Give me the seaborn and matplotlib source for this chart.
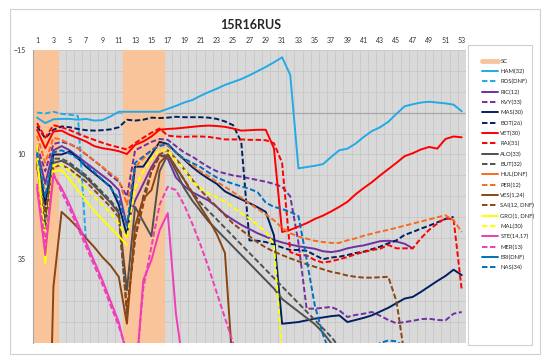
import numpy as np
import pandas as pd
import matplotlib
matplotlib.use("Agg")
import matplotlib.pyplot as plt
import seaborn as sns
from matplotlib.lines import Line2D
from matplotlib.patches import Rectangle

nan = np.nan

# lap numbers and safety-car laps
laps = list(range(1, 54))
sc_laps = [1, 2, 3, 12, 13, 14, 15, 16]

# gap values per driver, one per lap (nan = no data)
ham = [1.2, 2.5, 1.6, 1.5, 1.5, 1.7, 1.5, 1.9, 1.8, 0.9, -0.2, -0.2, -0.2, -0.2, -0.2, -0.2, -0.9, -1.6, -2.4, -3.0,
       -4.0, -4.9, -5.7, -6.6, -7.3, -8.0, -8.9, -9.9, -10.9, -12.0, -13.2, -9.0, 13.3, 13.0, 12.7, 12.3, 10.6, 9.0, 8.6, 7.4,
       5.8, 4.4, 3.5, 2.2, 0.3, -1.5, -2.0, -2.4, -2.6, -2.4, -2.2, -1.9, -0.3]
ros = [0.0, 0.2, -0.2, 0.3, 0.5, 0.8, 31.0] + [nan] * 46
ric = [9, 17, 9, 8, 9, 10.5, 12, 13.5, 15, 16.5, 18.5, 27, 21, 17, 13, 10, 11, 15.5, 17.5, 19,
       20, 21, 22.5, 24.3, 25.6, 26.8, 27.8, 28.8, 29.6, 30.4, 31, 31.5, 31.9, 32.2, 32.5, 33.1, 33.3, 33, 32.4, 32,
       31.7, 31.2, 30.7, 30.6, 30.8, 31.3, 32.4] + [nan] * 6
kvy = [8, 14, 7.5, 7, 7.5, 8.5, 10, 11.5, 13, 15, 16.5, 20, 9, 8, 7, 6.3, 6.5, 8, 9.5, 10.5,
       11.8, 13, 14, 14.5, 15, 15.3, 15.7, 16.1, 16.5, 17, 17.7, 20, 31, 46.8, 46.8, 46.6, 46.4, 47.2, 48.8, 48.3,
       48, 47.6, 48.5, 49.5, 50.3, 50, 49.7, 49.3, 49.2, 49.5, 49.6, 48, 47.6]
mas = [10, 22, 10, 10, 9.3, 10.9, 12.9, 14.5, 16.1, 17.7, 22, 29.3, 12.9, 12.9, 10, 7, 7.5, 9.5, 11.2, 13,
       14.5, 15.8, 17, 18.8, 19.8, 20.7, 21.6, 22.6, 23.7, 29.3, 50.4, 50.2, 50, 49.6, 49.2, 48.9, 48.6, 48.4, 50, 49.5,
       49, 48.4, 47.5, 46.6, 45.5, 44.4, 44, 42.8, 41.5, 40.2, 39, 37.5, 38.8]
bot = [3.3, 6.1, 4.1, 3.3, 3.5, 3.9, 4.2, 4.3, 4.2, 4.0, 3.5, 1.7, 1.9, 1.7, 1.2, 1.3, 1.2, 1.0, 1.1, 1.1,
       1.1, 1.2, 1.5, 2.1, 3.0, 7.0, 30.5, 30.6, 30.9, 31.5, 32.2, 32.8, 32.8, 33, 34, 35, 34.6, 34.4, 34, 33.5,
       33.2, 32.6, 32, 31.2, 30.5, 29.2, 28.5, 27.7, 27, 26.2, 25.4, 24.9, nan]
vet = [4.1, 8.5, 4.5, 4.3, 5.3, 6.1, 6.9, 8.0, 8.5, 8.8, 9.2, 9.9, 7.7, 6.9, 5.7, 4.1, 3.9, 3.8, 3.6, 3.4,
       3.2, 3.1, 3.2, 3.4, 3.8, 4.3, 4.2, 4.1, 4.1, 8.5, 28.5, 28, 27.2, 26.4, 25.4, 24.6, 23.6, 22.5, 21.3, 19.5,
       18, 16.6, 15, 13.5, 12, 10.4, 9.7, 8.8, 8.2, 8.6, 6.3, 5.7, 5.9]
rai = [2.5, 6, 3, 3.5, 4.2, 5, 5.8, 6.5, 7.2, 7.8, 8.3, 8.8, 7.3, 6, 4.8, 3.8, 5.5, 5.7, 5.8, 5.7,
       5.7, 5.8, 6.1, 6.4, 6.4, 6.4, 6.5, 6.5, 6.6, 7.3, 12, 33.3, 34, 34.1, 35.2, 35.8, 35.5, 35, 34.5, 33.8,
       33.3, 32.8, 32.5, 31.6, 32.4, 32.4, 32.4, 30, 28, 26.5, 25.2, 25.5, 42.4]
alo = [12, 27.7, 12, 11.5, 12.5, 14, 15.5, 17.5, 19.5, 21.5, 24, 42.4, 22.5, 26, 29.5, 14, 10, 14, 18, 21,
       23.5, 26, 28, 30, 32, 34, 36, 38, 40, 42, 44.5, 46, 47.5, 49, 50.5, 52.5, 55, 57.5] + [nan] * 15
but = [11, 25, 11, 11, 12, 13.5, 15, 17, 19, 21, 23.5, 48, 30, 20, 14, 10.5, 10, 13, 16, 19,
       21.5, 23.5, 25.5, 27.5, 29.5, 31.5, 33.5, 35.5, 37.5, 39.5, 41.5, 43.5, 45.5, 47.5, 49.5, 51.5, 53.5, 56,
       58.5] + [nan] * 14
hul = [7] + [nan] * 52
per = [5.5, 12, 6, 6.5, 7.5, 8.5, 10, 11.5, 13, 14.5, 16, 22, 13, 11, 9, 7.5, 8, 9.5, 11, 12.5,
       14, 15.2, 16.5, 17.7, 19, 20.3, 21.7, 23, 24.3, 25.7, 27.5, 28.8, 29.6, 30.1, 30.6, 30.9, 31.1, 31.1, 30.5, 30,
       29.4, 28.9, 28.4, 28, 27.5, 27, 26.5, 26, 25.5, 25, 24.5, 25.7, 28.5]
ves = [nan, 120, 41.6, 23.7, 25.5, 27.5, 30, 32.1, 34.5, 36.5, 39.2, 50.4, 27, 20.5, 18.5, 12, 10, 13, 16, 19.3,
       22.5, 25.5, 29, 33.5, 62] + [nan] * 28
sai = [13, 24, 13, 12.5, 13.5, 15, 16.5, 18.5, 20.5, 22.5, 25, 47, 30, 22, 14, 10, 9, 11, 13.5, 16,
       18.5, 20.5, 22.5, 24.5, 26.5, 28, 29.5, 31, 32.2, 33.2, 34, 34.8, 35.5, 36.2, 36.8, 37.4, 38, 38.4, 38.9, 39.2,
       39.4, 39.4, 39.3, 39.2, 45, 58] + [nan] * 7
gro = [8, 36, 14, 13.7, 16, 18.5, 21, 23.5, 25.5, 27.5, 29.5, 31.6] + [nan] * 41
mal = [11, 30, 12.5, 12.5, 14, 16, 18, 20, 22, 24, 26.5, 30, 18, 14, 11, 9, 9, 11.5, 13.5, 16.5,
       18, 19.3, 20.2, 21.3, 22.6, 24, 25.3, 26.8, 28.5, 31.5, 58] + [nan] * 22
ste = [18, 34, 15, 18, 22, 26.5, 31, 35.5, 40, 45, 50, 58, 66, 40, 35.2, 28.1, 24, 48, 62] + [nan] * 34
mer = [17, 31, 14.5, 19, 23, 27.5, 32, 36.5, 41, 46, 51, 57, 64, 42, 32, 22, 17.7, 18.5, 22, 26.5,
       31.5, 37, 43, 49, 55, 61] + [nan] * 27
eri = [14] + [nan] * 52
nas = [9.5, 20, 9.5, 9, 9.8, 11, 12.5, 14.2, 16, 18, 20.5, 27, 12, 10.5, 9, 8, 7.5, 9.5, 11, 12,
       13, 14.3, 15.5, 16.3, 17, 17.6, 18.2, 19, 21.5, 22.5, 23, 23.7, 24.7, 35, 46, 53, 58, 60, 60, 59,
       58, 56.5, 55, 54.4, 54.6, 56, 58] + [nan] * 6

drivers = ["HAM(32)", "ROS(DNF)", "RIC(12)", "KVY(33)", "MAS(30)", "BOT(26)", "VET(30)", "RAI(31)",
           "ALO(33)", "BUT(32)", "HUL(DNF)", "PER(12)", "VES(1,24)", "SAI(12, DNF)", "GRO(1, DNF)",
           "MAL(30)", "STE(14,17)", "MER(13)", "ERI(DNF)", "NAS(34)"]
series = [ham, ros, ric, kvy, mas, bot, vet, rai, alo, but, hul, per, ves, sai, gro, mal, ste, mer, eri, nas]

team_colors = ["#22AAE6", "#7030A0", "#002060", "#FF0000", "#505050", "#F86A1E",
               "#8B4513", "#FFFF00", "#F03CB8", "#0070C0"]
sc_color = "#F9C499"

rows = []
for name, vals in zip(drivers, series):
    for lap, v in zip(laps, vals):
        rows.append({"driver": name, "lap": lap, "gap": v})
df = pd.DataFrame(rows)

palette = {}
dashes = {}
for i, name in enumerate(drivers):
    palette[name] = team_colors[i // 2]
    dashes[name] = "" if i % 2 == 0 else (2.8, 1.3)

sns.set_style("white")
plt.rcParams["font.family"] = ["Lato", "DejaVu Sans"]

fig = plt.figure(figsize=(5.5, 3.62), dpi=100)
ax = fig.add_axes([0.06, 0.0525, 0.787, 0.81])
ax.set_facecolor("#D9D9D9")

# safety car periods as full-height bars
ax.bar(sc_laps, [70] * len(sc_laps), bottom=-15, width=1.0, color=sc_color,
       edgecolor=sc_color, linewidth=0.8, zorder=1)
ax.axhline(0, color="#A6A6A6", lw=0.9, zorder=0.8)

sns.lineplot(data=df, x="lap", y="gap", hue="driver", style="driver", hue_order=drivers,
             style_order=drivers, palette=palette, dashes=dashes, estimator=None, sort=False,
             lw=1.4, legend=False, ax=ax, zorder=3)

ax.set_xlim(0.5, 53.5)
ax.set_ylim(55, -15)
ax.set_xticks(range(1, 54, 2))
ax.set_xticks(np.arange(0.5, 54, 1), minor=True)
ax.set_yticks([-15, 10, 35])
ax.set_yticks(np.arange(-15, 56, 5), minor=True)
ax.xaxis.tick_top()
ax.tick_params(axis="x", which="both", length=0, labelsize=5, pad=4, colors="#333333")
ax.tick_params(axis="y", which="major", length=3, labelsize=5, pad=2, colors="#333333", color="#A6A6A6")
ax.tick_params(axis="y", which="minor", length=0)
ax.grid(which="minor", axis="x", color="#C6C6C6", lw=0.6)
ax.grid(which="both", axis="y", color="#C6C6C6", lw=0.6)
ax.set_axisbelow(True)
ax.set_xlabel("")
ax.set_ylabel("")
for side in ["top", "right", "bottom"]:
    ax.spines[side].set_visible(False)
ax.spines["left"].set_color("#A6A6A6")
ax.spines["left"].set_linewidth(0.8)

fig.text(0.455, 0.93, "15R16RUS", ha="center", va="center", fontsize=9, fontweight="bold", color="#262626")

# legend
handles = [Line2D([0], [0], color=sc_color, lw=3.5)]
labels = ["SC"]
for name in drivers:
    ls = "-" if dashes[name] == "" else (0, dashes[name])
    handles.append(Line2D([0], [0], color=palette[name], lw=1.4, linestyle=ls))
    labels.append(name)
fig.legend(handles, labels, loc="upper left", bbox_to_anchor=(0.876, 0.838), frameon=False,
           fontsize=4.2, handlelength=2.8, labelspacing=0.85, handletextpad=0.4, borderpad=0,
           borderaxespad=0)

fig.patches.append(Rectangle((0.851, 0.047), 0.116, 0.829, transform=fig.transFigure,
                             fill=False, edgecolor="#D0D0D0", lw=0.8))
fig.patches.append(Rectangle((0.018, 0.022), 0.964, 0.952, transform=fig.transFigure,
                             fill=False, edgecolor="#D0D0D0", lw=0.8))

fig.savefig("out.png", dpi=100)
